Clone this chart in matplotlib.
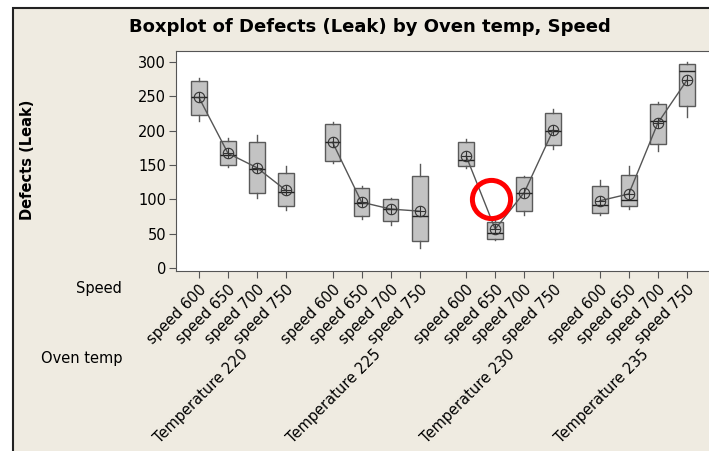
import numpy as np
import matplotlib.pyplot as plt
from matplotlib.patches import Rectangle

# Boxplot of Defects (Leak) by Oven temp, Speed
temps = ["Temperature 220", "Temperature 225", "Temperature 230", "Temperature 235"]
speeds = ["speed 600", "speed 650", "speed 700", "speed 750"]

whis_lo = [[214, 147, 102, 84], [153, 72, 63, 29], [146, 41, 78, 173], [78, 86, 170, 219]]
q1 = [[222, 150, 109, 90], [156, 76, 68, 40], [148, 43, 83, 179], [80, 90, 180, 235]]
median = [[248, 164, 144, 111], [184, 95, 86, 76], [157, 51, 109, 199], [92, 99, 214, 286]]
q3 = [[272, 185, 184, 138], [209, 117, 100, 134], [183, 67, 132, 225], [120, 136, 238, 297]]
whis_hi = [[277, 189, 194, 148], [212, 120, 102, 152], [188, 75, 134, 232], [128, 148, 242, 299]]
means = [[248, 167, 146, 113], [183, 96, 86, 83], [163, 57, 110, 201], [98, 108, 211, 273]]

# red highlight ring drawn on the original (temp 230 / speed 650 area)
ring_x, ring_y = 10.05, 101

bg = "#efebe1"
gap = 1.6

fig = plt.figure(figsize=(7.09, 4.51), dpi=100)
fig.patch.set_facecolor("white")
fig.patches.append(Rectangle((12.5 / 709, -0.01), 1.0, 1 - 8 / 451 + 0.01, transform=fig.transFigure,
                             facecolor=bg, edgecolor="#222222", lw=1.5, zorder=-5))

ax = fig.add_axes([175.7 / 709, 180 / 451, (720 - 175.7) / 709, 220 / 451])
ax.set_zorder(2)
ax.set_facecolor("white")

stats = []
pos = []
for g in range(4):
    for s in range(4):
        stats.append(dict(med=median[g][s], q1=q1[g][s], q3=q3[g][s],
                          whislo=whis_lo[g][s], whishi=whis_hi[g][s], fliers=[]))
        pos.append(g * (3 + gap) + s)

ax.bxp(stats, positions=pos, widths=0.54, showcaps=False, patch_artist=True,
       boxprops=dict(facecolor="#c3c3c3", edgecolor="#5a5a5a", lw=1),
       whiskerprops=dict(color="#5a5a5a", lw=1),
       medianprops=dict(color="#222222", lw=1))

for g in range(4):
    xs = [g * (3 + gap) + s for s in range(4)]
    ax.plot(xs, means[g], color="#555555", lw=1, zorder=4)
    ax.plot(xs, means[g], ls="none", marker="o", ms=7.5, mfc="none", mec="#333333", mew=0.8, zorder=5)
    ax.plot(xs, means[g], ls="none", marker="+", ms=7.5, mec="#333333", mew=0.8, zorder=5)

ax.plot([ring_x], [ring_y], marker="o", ms=27.5, mfc="none", mec="red", mew=3.6, zorder=6, clip_on=False)

ax.set_ylim(-3.9, 315.5)
ax.set_xlim(-0.8, 17.94)
ax.set_yticks([0, 50, 100, 150, 200, 250, 300])
ax.set_xticks(pos)
ax.set_xticklabels(speeds * 4, rotation=45, ha="right", rotation_mode="anchor", fontsize=10.5)
ax.tick_params(axis="y", labelsize=10.5, length=5, color="#555555", pad=2)
ax.tick_params(axis="x", length=5, color="#555555", pad=3)
for sp in ax.spines.values():
    sp.set_color("#555555")
ax.spines["right"].set_visible(False)

for g in range(4):
    xc = g * (3 + gap) + 1.5
    ax.annotate(temps[g], xy=(xc, 0), xycoords=("data", "axes fraction"),
                xytext=(2, -58), textcoords="offset points", rotation=45,
                ha="right", va="center", rotation_mode="anchor", fontsize=10.5)

fig.text(122 / 709, 1 - 288 / 451, "Speed", ha="right", va="center", fontsize=10.5)
fig.text(122 / 709, 1 - 358 / 451, "Oven temp", ha="right", va="center", fontsize=10.5)
fig.text(28 / 709, 1 - 160 / 451, "Defects (Leak)", rotation=90, ha="center", va="center",
         fontsize=10.5, fontweight="bold")
fig.text(370 / 709, 1 - 27 / 451, "Boxplot of Defects (Leak) by Oven temp, Speed",
         ha="center", va="center", fontsize=13, fontweight="bold")

fig.savefig("out.png", dpi=100, facecolor=fig.get_facecolor())
